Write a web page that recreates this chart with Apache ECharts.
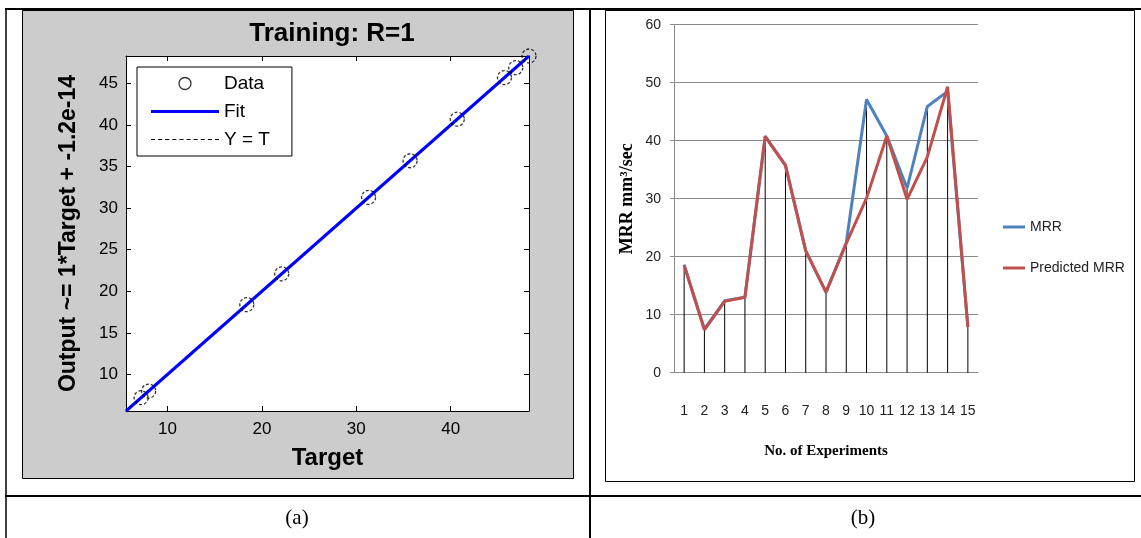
<!DOCTYPE html>
<html>
<head>
<meta charset="utf-8">
<script src="https://cdn.jsdelivr.net/npm/echarts@6/dist/echarts.min.js"></script>
<style>
html,body{margin:0;padding:0;background:#fff;}
#chart{width:1141px;height:538px;}
</style>
</head>
<body>
<div id="chart"></div>
<script>
// ---- Panel (a): regression plot data ----
const trainTargets = [7.2, 8.0, 18.4, 22.1, 31.3, 35.7, 40.7, 45.7, 46.9, 48.3];
const trainOutputs = [7.2, 8.0, 18.4, 22.1, 31.3, 35.7, 40.7, 45.7, 46.9, 48.3];
const targetRange = [5.6, 48.3];
const fitSlope = 1;
const fitIntercept = -1.2e-14;
const regXTicks = [10, 20, 30, 40];
const regYTicks = [10, 15, 20, 25, 30, 35, 40, 45];

// ---- Panel (b): MRR line chart data ----
const experiments = ['1','2','3','4','5','6','7','8','9','10','11','12','13','14','15'];
const mrr =          [18.6, 7.5, 12.4, 13.0, 40.8, 35.8, 21.0, 13.9, 22.4, 47.1, 40.8, 31.8, 45.9, 48.5, 7.9];
const predictedMrr = [18.5, 7.4, 12.3, 13.0, 40.7, 35.7, 21.0, 13.9, 22.3, 30.1, 40.8, 29.9, 37.2, 49.3, 7.9];

const scatterData = trainTargets.map((t, i) => [t, trainOutputs[i]]);
const fitData = targetRange.map(t => [t, fitSlope * t + fitIntercept]);
const identityData = targetRange.map(t => [t, t]);
const dropData = mrr.map((v, i) => Math.max(v, predictedMrr[i]));

// legend icon shapes (plain line strokes)
const solidIcon = (w, h) => 'path://M0 0H' + w + 'V' + h + 'H0Z';
function dashedIcon(w, dash, gap) {
  let p = 'path://';
  for (let x = 0; x < w; x += dash + gap) {
    const e = Math.min(x + dash, w);
    p += 'M' + x + ' 0H' + e + 'V1H' + x + 'Z';
  }
  return p;
}

const chart = echarts.init(document.getElementById('chart'));
const sans = 'Liberation Sans, Arial, sans-serif';
const serif = 'Liberation Serif, Times New Roman, serif';
const gridGray = '#8a8a8a';

const option = {
  animation: false,
  backgroundColor: '#fff',
  title: [
    { text: 'Training: R=1', left: 327, top: 16, textAlign: 'center',
      textStyle: { fontFamily: sans, fontSize: 26, fontWeight: 'bold', color: '#000' } }
  ],
  graphic: { elements: [
    { type: 'rect', z: -5, shape: { x: 22.5, y: 10.5, width: 551, height: 468 },
      style: { fill: '#cccccc', stroke: '#000', lineWidth: 1 } },
    { type: 'rect', z: -5, shape: { x: 605.5, y: 10.5, width: 529, height: 471 },
      style: { fill: 'none', stroke: '#000', lineWidth: 1 } },
    { type: 'line', z: -4, shape: { x1: 5, y1: 9, x2: 1141, y2: 9 }, style: { stroke: '#000', lineWidth: 2 } },
    { type: 'line', z: -4, shape: { x1: 6, y1: 8, x2: 6, y2: 538 }, style: { stroke: '#000', lineWidth: 1.5 } },
    { type: 'line', z: -4, shape: { x1: 590, y1: 8, x2: 590, y2: 538 }, style: { stroke: '#000', lineWidth: 2 } },
    { type: 'line', z: -4, shape: { x1: 5, y1: 496, x2: 1141, y2: 496 }, style: { stroke: '#000', lineWidth: 2 } },
    { type: 'text', x: 297, y: 518, style: { text: '(a)', fontFamily: serif, fontSize: 21, fill: '#000', align: 'center', verticalAlign: 'middle' } },
    { type: 'text', x: 863, y: 518, style: { text: '(b)', fontFamily: serif, fontSize: 21, fill: '#000', align: 'center', verticalAlign: 'middle' } }
  ]},
  grid: [
    { left: 126, top: 56, width: 403, height: 355, show: true, backgroundColor: '#fff', borderWidth: 0 },
    { left: 674, top: 24.7, width: 304, height: 348 }
  ],
  legend: [
    { data: [
        { name: 'Data', icon: 'circle', itemStyle: { color: 'rgba(0,0,0,0)', borderColor: '#000', borderWidth: 1.3, borderType: 'solid' } },
        { name: 'Fit', icon: solidIcon(68, 3), itemStyle: { color: '#0000ff', borderWidth: 0 } },
        { name: 'Y = T', icon: dashedIcon(68, 4, 3), itemStyle: { color: '#000', borderWidth: 0 } }
      ],
      orient: 'vertical', left: 137, top: 67,
      padding: [7, 22, 7, 14], itemWidth: 68, itemHeight: 12, itemGap: 9,
      backgroundColor: '#fff', borderColor: '#000', borderWidth: 1, borderRadius: 0,
      textStyle: { fontFamily: sans, fontSize: 19, color: '#000' },
      selectedMode: false },
    { data: [
        { name: 'MRR', icon: solidIcon(22, 3), itemStyle: { color: '#4f81bd', borderWidth: 0 } },
        { name: 'Predicted MRR', icon: solidIcon(22, 3), itemStyle: { color: '#c0504d', borderWidth: 0 } }
      ],
      orient: 'vertical', left: 1003, top: 220, padding: 0,
      itemWidth: 22, itemHeight: 14, itemGap: 27,
      textStyle: { fontFamily: sans, fontSize: 14, color: '#222' },
      selectedMode: false }
  ],
  xAxis: [
    { gridIndex: 0, type: 'value', min: targetRange[0], max: targetRange[1], position: 'bottom',
      name: 'Target', nameLocation: 'middle', nameGap: 35,
      nameTextStyle: { fontFamily: sans, fontSize: 24, fontWeight: 'bold', color: '#000' },
      axisLine: { show: true, onZero: false, lineStyle: { color: '#000', width: 1 } },
      axisTick: { show: true, inside: true, length: 5, customValues: regXTicks, lineStyle: { color: '#000' } },
      axisLabel: { show: true, customValues: regXTicks, margin: 10, fontFamily: sans, fontSize: 17, color: '#000' },
      splitLine: { show: false } },
    { gridIndex: 0, type: 'value', min: targetRange[0], max: targetRange[1], position: 'top',
      axisLine: { show: true, onZero: false, lineStyle: { color: '#000', width: 1 } },
      axisTick: { show: true, inside: true, length: 5, customValues: regXTicks, lineStyle: { color: '#000' } },
      axisLabel: { show: false }, splitLine: { show: false } },
    { gridIndex: 1, type: 'category', data: experiments, boundaryGap: true,
      name: 'No. of Experiments', nameLocation: 'middle', nameGap: 71,
      nameTextStyle: { fontFamily: serif, fontSize: 15, fontWeight: 'bold', color: '#000' },
      axisLine: { show: true, lineStyle: { color: gridGray, width: 1 } },
      axisTick: { show: false },
      axisLabel: { margin: 31, fontFamily: sans, fontSize: 14, color: '#222', interval: 0 },
      splitLine: { show: false } }
  ],
  yAxis: [
    { gridIndex: 0, type: 'value', min: targetRange[0], max: targetRange[1], position: 'left',
      name: 'Output ~= 1*Target + -1.2e-14', nameLocation: 'middle', nameGap: 46,
      nameTextStyle: { fontFamily: sans, fontSize: 23, fontWeight: 'bold', color: '#000' },
      axisLine: { show: true, onZero: false, lineStyle: { color: '#000', width: 1 } },
      axisTick: { show: true, inside: true, length: 5, customValues: regYTicks, lineStyle: { color: '#000' } },
      axisLabel: { show: true, customValues: regYTicks, margin: 8, fontFamily: sans, fontSize: 17, color: '#000' },
      splitLine: { show: false } },
    { gridIndex: 0, type: 'value', min: targetRange[0], max: targetRange[1], position: 'right',
      axisLine: { show: true, onZero: false, lineStyle: { color: '#000', width: 1 } },
      axisTick: { show: true, inside: true, length: 5, customValues: regYTicks, lineStyle: { color: '#000' } },
      axisLabel: { show: false }, splitLine: { show: false } },
    { gridIndex: 1, type: 'value', min: 0, max: 60, interval: 10,
      name: 'MRR mm³/sec', nameLocation: 'middle', nameGap: 38,
      nameTextStyle: { fontFamily: serif, fontSize: 18, fontWeight: 'bold', color: '#000' },
      axisLine: { show: true, lineStyle: { color: gridGray, width: 1 } },
      axisTick: { show: true, inside: false, length: 4, lineStyle: { color: gridGray } },
      axisLabel: { margin: 13, fontFamily: sans, fontSize: 14, color: '#222' },
      splitLine: { show: true, lineStyle: { color: gridGray, width: 1.2 } } }
  ],
  series: [
    { name: 'Y = T', type: 'line', xAxisIndex: 0, yAxisIndex: 0, data: identityData,
      symbol: 'none', lineStyle: { color: '#000', width: 1, type: [4, 3] }, itemStyle: { color: '#000' }, z: 2 },
    { name: 'Fit', type: 'line', xAxisIndex: 0, yAxisIndex: 0, data: fitData,
      symbol: 'none', lineStyle: { color: '#0000ff', width: 3 }, itemStyle: { color: '#0000ff' }, z: 3 },
    { name: 'Data', type: 'scatter', xAxisIndex: 0, yAxisIndex: 0, data: scatterData,
      symbol: 'circle', symbolSize: 14,
      itemStyle: { color: 'rgba(0,0,0,0)', borderColor: '#000', borderWidth: 1.3, borderType: [3, 2] }, z: 4 },
    { name: 'drop', type: 'bar', xAxisIndex: 2, yAxisIndex: 2, data: dropData,
      barWidth: 1, itemStyle: { color: '#000' }, z: 2, silent: true },
    { name: 'MRR', type: 'line', xAxisIndex: 2, yAxisIndex: 2, data: mrr,
      symbol: 'none', lineStyle: { color: '#4f81bd', width: 3 }, itemStyle: { color: '#4f81bd' }, z: 3 },
    { name: 'Predicted MRR', type: 'line', xAxisIndex: 2, yAxisIndex: 2, data: predictedMrr,
      symbol: 'none', lineStyle: { color: '#c0504d', width: 3 }, itemStyle: { color: '#c0504d' }, z: 4 }
  ]
};
chart.setOption(option);
</script>
</body>
</html>
